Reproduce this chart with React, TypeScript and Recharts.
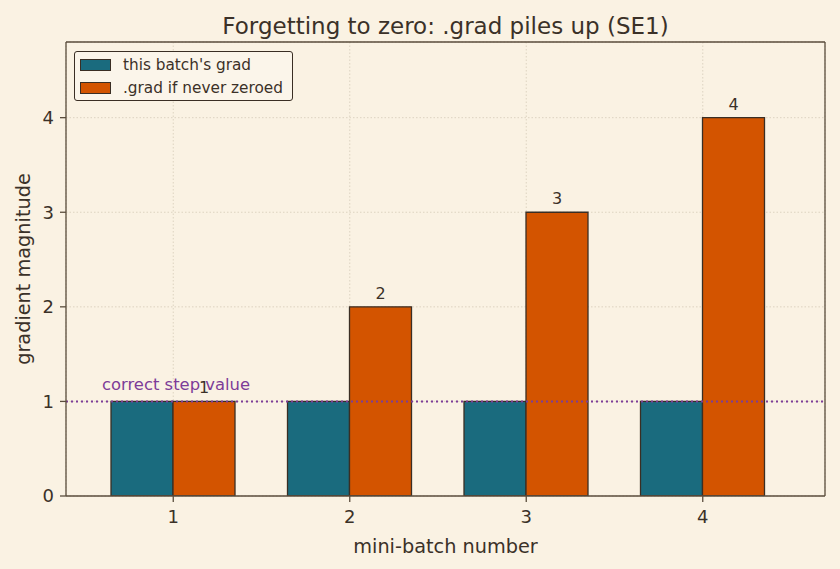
import React from 'react'
import {
  ComposedChart,
  Bar,
  XAxis,
  YAxis,
  CartesianGrid,
  ReferenceLine,
  LabelList,
} from 'recharts'

// values per mini-batch
const batches = ['1', '2', '3', '4']
const batchGrad = [1, 1, 1, 1]
const neverZeroed = [1, 2, 3, 4]
const yTicks = [0, 1, 2, 3, 4]
const correctStep = 1

const BG = '#faf2e3'
const INK = '#3b3128'
const FRAME = '#5a4d3d'
const TEAL = '#1a6b7e'
const ORANGE = '#d35400'
const EDGE = '#3a2e24'
const PURPLE = '#7d3c98'
const FONT = '"DejaVu Sans", Verdana, sans-serif'

const rows = batches.map((b, i) => ({
  batch: b,
  grad: batchGrad[i],
  accum: neverZeroed[i],
}))

const legendItems = [
  { name: "this batch's grad", color: TEAL },
  { name: '.grad if never zeroed', color: ORANGE },
]

// legend drawn as an overlay so it doesn't eat into the plot margins
const LegendBox = () => (
  <div
    style={{
      position: 'absolute',
      left: 74,
      top: 51,
      width: 219,
      height: 50,
      boxSizing: 'border-box',
      border: `1.3px solid ${EDGE}`,
      borderRadius: 3,
      background: '#fbf5ea',
      padding: '1px 6px 2px 5px',
      fontFamily: FONT,
      color: INK,
      whiteSpace: 'nowrap',
    }}
  >
    {legendItems.map((it) => (
      <div key={it.name} style={{ display: 'flex', alignItems: 'center', height: 23 }}>
        <div
          style={{
            width: 31,
            height: 12,
            background: it.color,
            border: `1.3px solid ${EDGE}`,
            marginRight: 12,
            boxSizing: 'border-box',
          }}
        />
        <span style={{ fontSize: 15.3 }}>{it.name}</span>
      </div>
    ))}
  </div>
)

const StepLabel = ({ viewBox }: any) => {
  if (!viewBox) return null
  return (
    <text x={viewBox.x + 36} y={viewBox.y - 11} fill={PURPLE} fontSize={16.4} fontFamily={FONT}>
      correct step value
    </text>
  )
}

export default function App() {
  const tickStyle = { fill: INK, fontSize: 18, fontFamily: FONT }
  return (
    <div style={{ position: 'absolute', left: 0, top: 0, width: 840, height: 569, background: BG }}>
      <div
        style={{
          position: 'absolute',
          top: 12,
          left: 66,
          width: 759,
          textAlign: 'center',
          fontFamily: FONT,
          fontSize: 23,
          lineHeight: '28px',
          color: INK,
        }}
      >
        Forgetting to zero: .grad piles up (SE1)
      </div>
      <ComposedChart
        width={840}
        height={569}
        data={rows}
        margin={{ top: 41, right: 14, bottom: 0, left: 0 }}
        barGap={0}
        style={{ fontFamily: FONT }}
      >
        <CartesianGrid stroke="#d6ccb9" strokeDasharray="1.5 2" strokeWidth={0.8} />
        <XAxis
          dataKey="batch"
          height={73}
          padding={{ left: 19, right: 34 }}
          stroke={FRAME}
          strokeWidth={1.3}
          tickSize={6}
          tickMargin={8}
          tick={tickStyle}
          label={{ value: 'mini-batch number', position: 'insideBottom', offset: 16, fill: INK, fontSize: 19.3 }}
        />
        <XAxis
          xAxisId="top"
          dataKey="batch"
          orientation="top"
          height={1}
          padding={{ left: 19, right: 34 }}
          stroke={FRAME}
          strokeWidth={1.3}
          tick={false}
          tickLine={false}
        />
        <YAxis
          domain={[0, 4.8]}
          ticks={yTicks}
          width={66}
          stroke={FRAME}
          strokeWidth={1.3}
          tickSize={6}
          tickMargin={6}
          tick={tickStyle}
          allowDataOverflow
          label={{
            value: 'gradient magnitude',
            angle: -90,
            position: 'insideLeft',
            offset: 23,
            fill: INK,
            fontSize: 19.3,
            style: { textAnchor: 'middle' },
          }}
        />
        <YAxis
          yAxisId="right"
          orientation="right"
          domain={[0, 4.8]}
          width={1}
          stroke={FRAME}
          strokeWidth={1.3}
          tick={false}
          tickLine={false}
        />
        <Bar
          dataKey="grad"
          name="this batch's grad"
          fill={TEAL}
          stroke={EDGE}
          strokeWidth={1.3}
          barSize={62}
          isAnimationActive={false}
        />
        <Bar
          dataKey="accum"
          name=".grad if never zeroed"
          fill={ORANGE}
          stroke={EDGE}
          strokeWidth={1.3}
          barSize={62}
          isAnimationActive={false}
        >
          <LabelList dataKey="accum" position="top" offset={8} fill={INK} fontSize={16} fontFamily={FONT} />
        </Bar>
        <ReferenceLine
          y={correctStep}
          stroke={PURPLE}
          strokeWidth={2}
          strokeDasharray="2 3"
          label={<StepLabel />}
        />
      </ComposedChart>
      <LegendBox />
    </div>
  )
}
